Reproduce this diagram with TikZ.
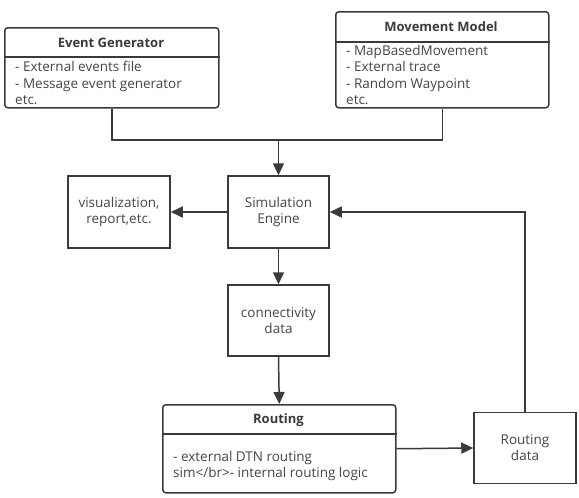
\documentclass[tikz,border=0pt]{standalone}
\usepackage{fontspec}
\setmainfont{Open Sans}
\usetikzlibrary{arrows.meta}
\definecolor{linec}{HTML}{3A3A3A}
\definecolor{textc}{HTML}{444444}
\tikzset{
  frame/.style={draw=linec, line width=1.5pt, inner sep=0pt},
  umlbox/.style={frame, rounded corners=3pt},
  plainbox/.style={frame, minimum width=101pt, minimum height=72pt},
  label/.style={text=textc, font=\fontsize{13.5}{16}\selectfont, align=center, inner sep=0pt},
  title/.style={text=linec, font=\fontsize{13}{16}\selectfont\bfseries, inner sep=0pt},
  body/.style={text=textc, font=\fontsize{13.5}{16.5}\selectfont, align=left, inner sep=0pt, anchor=base west},
  wire/.style={draw=linec, line width=1.5pt},
  arr/.style={wire, -{Triangle[length=12pt,width=11pt]}}
}
\begin{document}
\begin{tikzpicture}[x=1pt, y=-1pt]
  \useasboundingbox (0,0) rectangle (579,498);

  %% event generator
  \node[umlbox, minimum width=214pt, minimum height=80pt, anchor=north west] (evgen) at (4,27) {};
  \draw[wire] ([yshift=-30pt]evgen.north west) -- ([yshift=-30pt]evgen.north east);
  \node[title] (evgentitle) at (111,43) {Event Generator};
  \node[body] (evgenbody) at (15,104.5) {- External events file\\- Message event generator\\etc.};

  %% movement model
  \node[umlbox, minimum width=213pt, minimum height=96pt, anchor=north west] (movmod) at (335,11) {};
  \draw[wire] ([yshift=-31pt]movmod.north west) -- ([yshift=-31pt]movmod.north east);
  \node[title] (movmodtitle) at (441,27) {Movement Model};
  \node[body] (movmodbody) at (346,104.5) {- MapBasedMovement\\- External trace\\- Random Waypoint\\etc.};

  %% simulation engine and outputs
  \node[plainbox] (sim) at (278.5,212) {};
  \node[label] (simtext) at (sim) {Simulation\\Engine};
  \node[plainbox, minimum width=102pt] (vis) at (119,212) {};
  \node[label] (vistext) at (vis) {visualization,\\report,etc.};
  \node[plainbox, minimum height=71pt] (conn) at (278.5,320.5) {};
  \node[label] (conntext) at (conn) {connectivity\\data};

  %% routing
  \node[umlbox, minimum width=233pt, minimum height=88pt, anchor=north west] (routing) at (162,404) {};
  \draw[wire] ([yshift=-30pt]routing.north west) -- ([yshift=-30pt]routing.north east);
  \node[title] (routingtitle) at (278.5,420) {Routing};
  \node[body] (routingbody) at (173,477.5) {- external DTN routing\\sim</br>- internal routing logic};
  \node[plainbox, minimum width=102pt, minimum height=71pt] (rdata) at (525,448) {};
  \node[label] (rdatatext) at (rdata) {Routing\\data};

  %% connectors
  \coordinate (join) at (278.5,140);
  \draw[wire] (evgen.south) |- (join);
  \draw[wire] (movmod.south) |- (join);
  \draw[arr] (join) -- (sim.north);
  \draw[arr] (sim.west) -- (vis.east);
  \draw[arr] (sim.south) -- (conn.north);
  \draw[arr] (conn.south) -- (routing.north);
  \draw[arr] (routing.east) -- (rdata.west);
  \draw[arr] (rdata.north) |- (sim.east);
\end{tikzpicture}
\end{document}
